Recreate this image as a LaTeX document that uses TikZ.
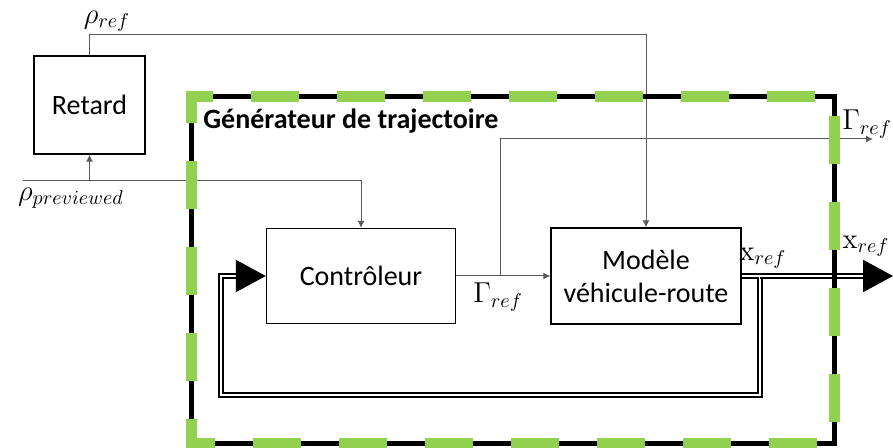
\documentclass[tikz,border=0pt]{standalone}
\usepackage[no-math]{fontspec}
\setmainfont{Carlito}
\usetikzlibrary{arrows.meta}
\definecolor{vert}{HTML}{92D050}
\tikzset{blk/.style={draw,line width=0.7pt,align=center},sig/.style={draw=black!65,line width=0.5pt},arr/.style={sig,-{Latex[length=3.5pt,width=3.5pt]}},dbl/.style={draw,double,line width=0.9pt,double distance=1.4pt},big/.style={-{Triangle[length=15pt,width=16pt]},line width=1pt}}

\begin{document}
\begin{tikzpicture}[x=0.5pt,y=-0.5pt,font=\fontsize{14}{16.5}\selectfont]
\useasboundingbox(0,0)rectangle(893,448);
\node[blk,minimum width=55.5pt,minimum height=49pt](ret)at(89.5,105){Retard};
\node[blk,minimum width=94.5pt,minimum height=47.5pt](ctrl)at(361,276){Contrôleur};
\node[blk,minimum width=95pt,minimum height=48pt](mod)at(646,276){Modèle\\véhicule-route};
\node[font=\fontsize{14}{16}\selectfont\bfseries,anchor=base west,inner sep=0pt](titre)at(203,129){Générateur de trajectoire};
\coordinate(rtop)at(646,35);\coordinate(pin)at(23,181);\coordinate(gsp)at(500,276);\coordinate(gout)at(873,139);
\coordinate(xsp)at(760,276);\coordinate(xend)at(863,276);\coordinate(xtip)at(893,276);\coordinate(fb)at(221,395);\coordinate(fbh)at(236,276);
\draw[arr](ret.north)|-(rtop)--(mod.north);
\draw[arr](pin)-|(ctrl.north);\draw[arr](ret.south|-pin)--(ret.south);
\draw[arr](ctrl.east)--(mod.west);\draw[arr](gsp)|-(gout);
\draw[dbl](mod.east)--(xsp)|-(fb)|-(fbh);\draw[big](fbh)--(ctrl.west);
\draw[dbl](xsp)--(xend);\draw[big](xend)--(xtip);
\node(lrr)at(107,21){$\rho_{ref}$};\node(lrp)at(71,198){$\rho_{previewed}$};
\node(lgo)at(867,124){$\Gamma_{ref}$};\node(lgm)at(498,297){$\Gamma_{ref}$};
\node(lxm)at(763,258){$\mathrm{x}_{ref}$};\node(lxo)at(866,246){$\mathrm{x}_{ref}$};
% cadre du generateur
\draw[line width=2.5pt](191,97)rectangle(834,443);
\draw[vert,line width=5.5pt,dash pattern=on 24pt off 19pt](191,123)--(191,97)--(834,97)--(834,443)--(191,443)--cycle;
\end{tikzpicture}
\end{document}
